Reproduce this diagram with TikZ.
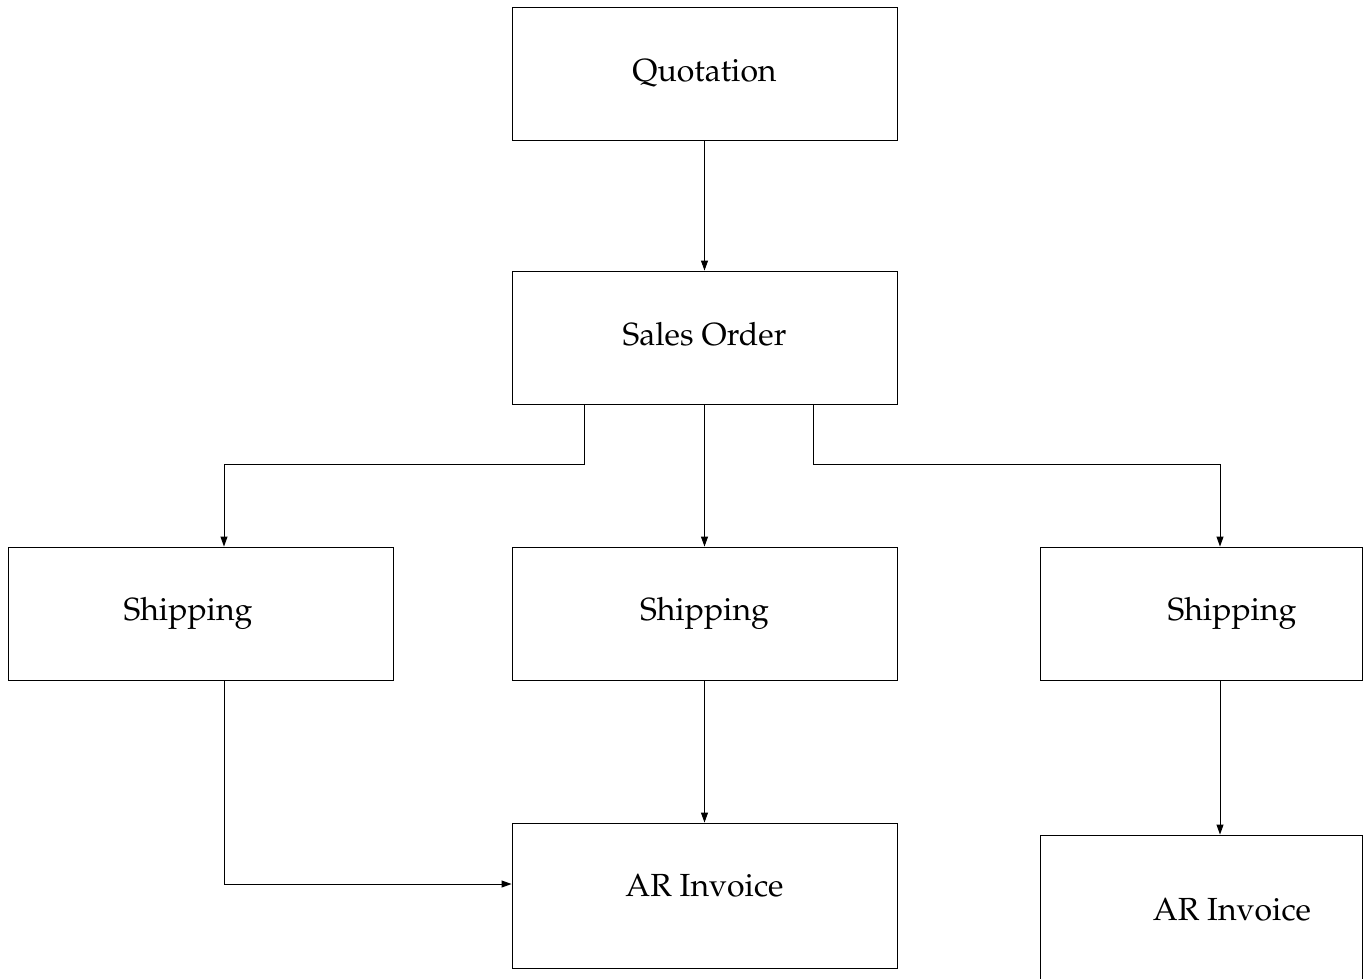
\documentclass[tikz,border=0pt]{standalone}
\usepackage[T1]{fontenc}
\usepackage{mathpazo}
\usetikzlibrary{arrows.meta}
\begin{document}
\begin{tikzpicture}[x=1pt,y=-1pt,
  box/.style={draw, line width=0.9pt, rectangle, inner sep=0pt,
    font=\fontsize{32}{38}\selectfont},
  arr/.style={draw, line width=0.9pt, -{Triangle[length=10pt,width=7pt]}}]
\useasboundingbox (0,0) rectangle (1371,978);
\clip (0,0) rectangle (1371,978);
\node[box, minimum width=385pt, minimum height=133pt] (quot) at (704.5,73.5) {\raisebox{2pt}{Quotation}};
\node[box, minimum width=385pt, minimum height=133pt] (so) at (704.5,337.5) {\raisebox{8pt}{Sales Order}};
\node[box, minimum width=385pt, minimum height=133pt] (shipL) at (200.5,613.5) {\raisebox{1pt}{Shipping}\hspace*{25pt}};
\node[box, minimum width=385pt, minimum height=133pt] (shipM) at (704.5,613.5) {\raisebox{1pt}{Shipping}};
\node[box, minimum width=322pt, minimum height=133pt] (shipR) at (1201,613.5) {\hspace*{62pt}\raisebox{1pt}{Shipping}};
\node[box, minimum width=385pt, minimum height=145pt] (ar) at (704.5,895.5) {\raisebox{20pt}{AR Invoice}};
\node[box, minimum width=322pt, minimum height=150pt] (ar2) at (1201,910) {\hspace*{62pt}AR Invoice};
\draw[arr] (quot.south) -- (so.north);
\draw[arr] (so.south) -- (shipM.north);
\draw[arr] ([xshift=-120.5pt]so.south) -- ++(0,60) -| ([xshift=23.5pt]shipL.north);
\draw[arr] ([xshift=108.5pt]so.south) -- ++(0,60) -| ([xshift=19pt]shipR.north);
\draw[arr] (shipM.south) -- (ar.north);
\draw[arr] ([xshift=23.5pt]shipL.south) |- ([yshift=11.5pt]ar.west);
\draw[arr] ([xshift=19pt]shipR.south) -- ([xshift=19pt]ar2.north);
\end{tikzpicture}
\end{document}
